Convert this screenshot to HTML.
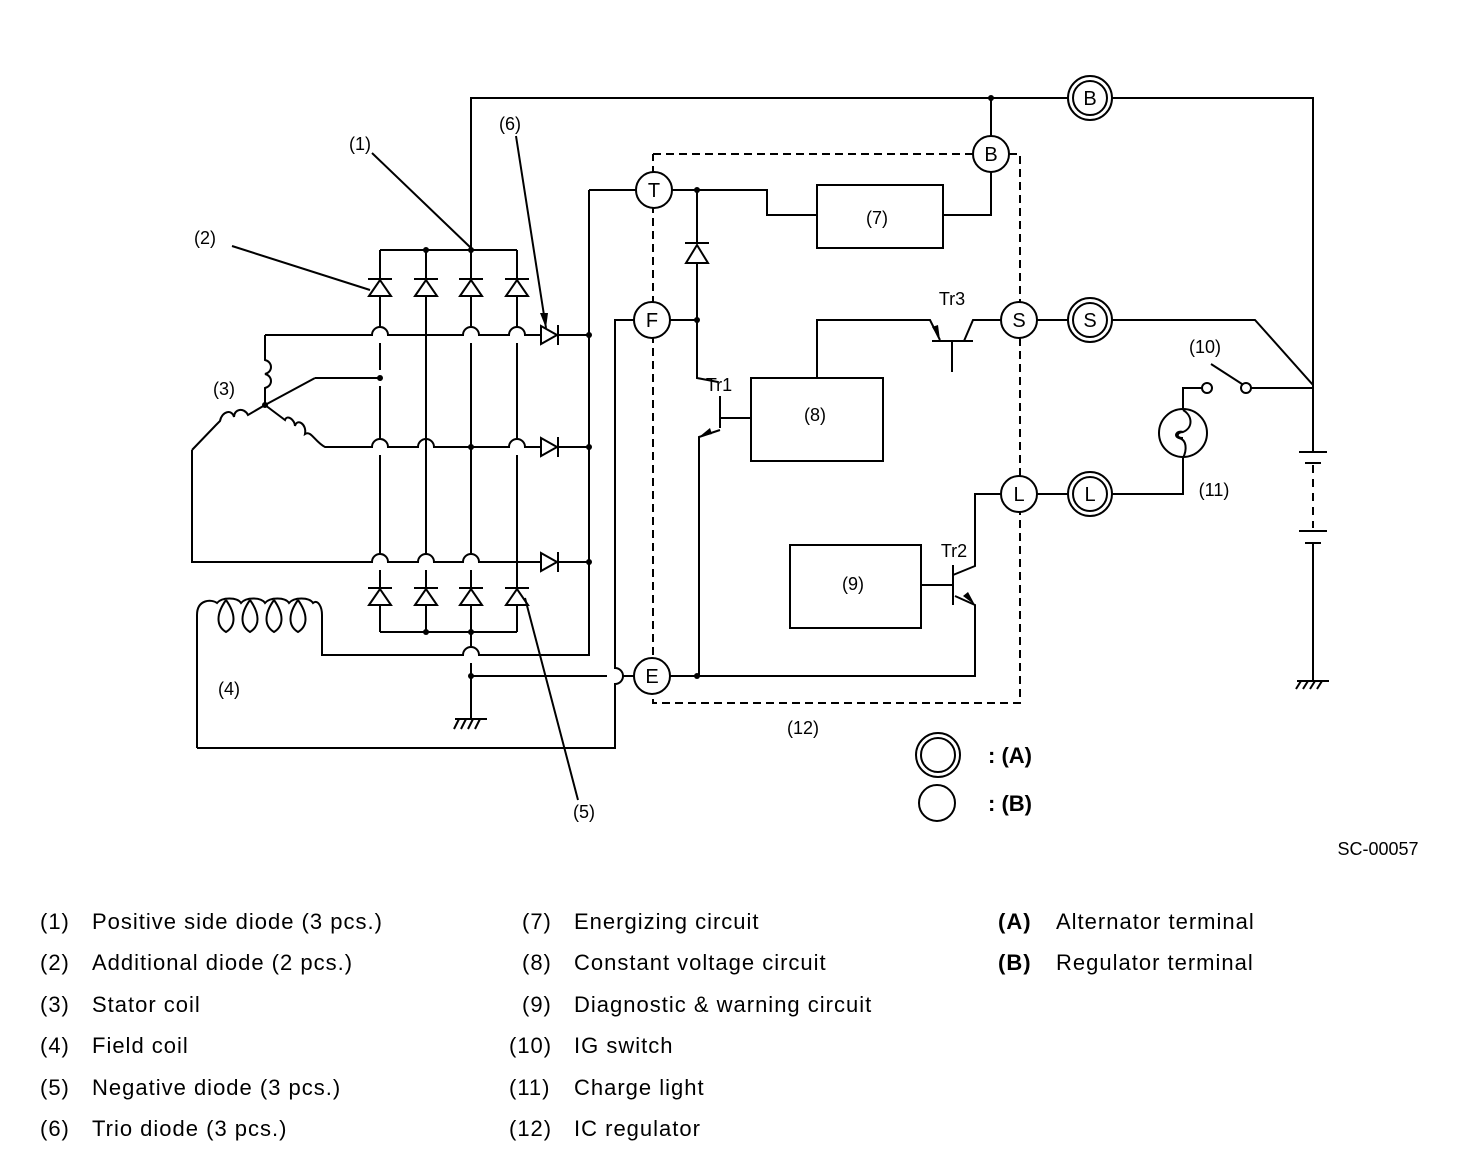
<!DOCTYPE html>
<html><head><meta charset="utf-8"><style>
html,body{margin:0;padding:0;background:#fff}
svg{display:block}
text{font-family:"Liberation Sans",Arial,sans-serif;fill:#000}
</style></head><body>
<svg width="1472" height="1176" viewBox="0 0 1472 1176" xmlns="http://www.w3.org/2000/svg">
<g fill="none" stroke="#000" stroke-width="2">
<path d="M471 250V98H1068M1112 98H1313V380L1313 452"/>
<path d="M991 98V136M991 172V215H943"/>
<rect x="817" y="185" width="126" height="63"/>
<path d="M672 190H767V215H817"/>
<path d="M653 154H973M1009 154H1020V703H653V154" stroke-dasharray="8,5"/>
<path d="M380 250H517M380 632H517"/>
<path d="M380 250V327M380 343V370M380 386V439M380 455V554M380 570V632"/>
<path d="M426 250V554M426 570V632"/>
<path d="M471 250V327M471 343V554M471 570V647M471 663V718"/>
<path d="M517 250V327M517 343V439M517 455V632"/>
<path d="M265 335H372A8 8 0 0 1 388 335H463A8 8 0 0 1 479 335H509A8 8 0 0 1 525 335H541M558 335H589"/>
<path d="M335 447H372A8 8 0 0 1 388 447H418A8 8 0 0 1 434 447H509A8 8 0 0 1 525 447H541M558 447H589"/>
<path d="M192 450V562H372A8 8 0 0 1 388 562H418A8 8 0 0 1 434 562H463A8 8 0 0 1 479 562H541M558 562H589"/>
<path d="M315 378H380"/>
<path d="M541 326L557 335L541 344Z M558 325V345"/>
<path d="M541 438L557 447L541 456Z M558 437V457"/>
<path d="M541 553L557 562L541 571Z M558 552V572"/>
<path d="M589 190V655H479A8 8 0 0 0 463 655H322V630"/>
<path d="M589 190H636"/>
<path d="M265 335V360c8 2 8 12 0 14c8 2 8 12 0 14V405"/>
<path d="M265 405L315 378"/>
<path d="M265 405L248 415c-4 -8 -14 -6 -14 2c-2 -8 -12 -6 -14 4l-4 4L192 450"/>
<path d="M265 405L285 420c2 -6 10 0 10 6c2 -8 12 -2 10 8c6 -4 10 8 20 13H335"/>
<path d="M197 748V615c0-16 15-16 20-12c5-6 20-6 24 0c5-6 20-6 24 0c5-6 20-6 24 0c5-6 20-6 24 0c5-4 9 4 9 12V630"/>
<path d="M226 600c-10 14-10 26 0 32c10-6 10-18 0-32M250 600c-10 14-10 26 0 32c10-6 10-18 0-32M274 600c-10 14-10 26 0 32c10-6 10-18 0-32M298 600c-10 14-10 26 0 32c10-6 10-18 0-32"/>
<path d="M197 748H615V684A8 8 0 0 0 615 668V320H634"/>
<path d="M471 676H607M623 676H634"/>
<path d="M455 719H487M459 719L454 729M466 719L461 729M473 719L468 729M480 719L475 729"/>
<g fill="#fff">
<path d="M369 296L380 280L391 296Z M415 296L426 280L437 296Z M460 296L471 280L482 296Z M506 296L517 280L528 296Z"/>
<path d="M369 605L380 589L391 605Z M415 605L426 589L437 605Z M460 605L471 589L482 605Z M506 605L517 589L528 605Z"/>
</g>
<path d="M368 279H392M414 279H438M459 279H483M505 279H529M368 588H392M414 588H438M459 588H483M505 588H529"/>
<path d="M372 153L471 248M232 246L370 290M516 136L546 328M578 800L525 598"/>
<path d="M697 190V243M697 263V378L718 382"/>
<path d="M686 263L697 245L708 263Z M685 243H709"/>
<path d="M720 396V428M720 418H751M720 430L699 437V676"/>
<path d="M670 676H975V605L955 596"/>
<path d="M670 320H697"/>
<rect x="751" y="378" width="132" height="83"/>
<path d="M817 378V320H930L940 340M932 341H973M952 341V372M964 341L973 320H1001"/>
<rect x="790" y="545" width="131" height="83"/>
<path d="M921 585H953M953 565V605M953 575L975 566V494H1001"/>
<g fill="#fff">
<circle cx="654" cy="190" r="18"/><circle cx="652" cy="320" r="18"/><circle cx="652" cy="676" r="18"/>
<circle cx="991" cy="154" r="18"/><circle cx="1019" cy="320" r="18"/><circle cx="1019" cy="494" r="18"/>
</g>
<circle cx="1090" cy="98" r="22"/><circle cx="1090" cy="98" r="17"/>
<circle cx="1090" cy="320" r="22"/><circle cx="1090" cy="320" r="17"/>
<circle cx="1090" cy="494" r="22"/><circle cx="1090" cy="494" r="17"/>
<path d="M1037 320H1068M1037 494H1068"/>
<path d="M1112 320H1255L1313 385"/>
<path d="M1112 494H1183V458M1183 408V388H1202"/>
<circle cx="1207" cy="388" r="5"/><circle cx="1246" cy="388" r="5"/>
<path d="M1211 364L1242 384M1251 388H1313"/>
<circle cx="1183" cy="433" r="24"/>
<path d="M1183 410c10 6 10 18 0 22c-6-2-10 4-4 6c8 2 8 12 4 20M1183 432c-6 0-8 6 0 6"/>
<path d="M1299 452H1327M1305 463H1321"/>
<path d="M1313 465V528" stroke-dasharray="8,6"/>
<path d="M1299 531H1327M1305 543H1321M1313 543V680"/>
<path d="M1297 681H1329M1301 681L1296 689M1308 681L1303 689M1315 681L1310 689M1322 681L1317 689"/>
<circle cx="938" cy="755" r="22"/><circle cx="938" cy="755" r="17"/>
<circle cx="937" cy="803" r="18"/>
</g>
<g fill="#000">
<path d="M699 437L710 428L712 434Z"/>
<path d="M975 605L963 596L968 592Z"/>
<path d="M940 340L932 327L938 325Z"/>
<path d="M546 328L540 313L548 313Z"/>
<circle cx="426" cy="250" r="3"/><circle cx="471" cy="250" r="3"/><circle cx="380" cy="378" r="3"/>
<circle cx="471" cy="447" r="3"/><circle cx="589" cy="335" r="3"/><circle cx="589" cy="447" r="3"/><circle cx="589" cy="562" r="3"/>
<circle cx="426" cy="632" r="3"/><circle cx="471" cy="632" r="3"/><circle cx="471" cy="676" r="3"/>
<circle cx="265" cy="405" r="3"/><circle cx="991" cy="98" r="3"/><circle cx="697" cy="190" r="3"/>
<circle cx="697" cy="320" r="3"/><circle cx="697" cy="676" r="3"/>
</g>
<g font-size="20" text-anchor="middle">
<text x="654" y="197">T</text><text x="652" y="327">F</text><text x="652" y="683">E</text>
<text x="991" y="161">B</text><text x="1019" y="327">S</text><text x="1019" y="501">L</text>
<text x="1090" y="105">B</text><text x="1090" y="327">S</text><text x="1090" y="501">L</text>
<text x="360" y="150" font-size="18">(1)</text><text x="205" y="244" font-size="18">(2)</text>
<text x="224" y="395" font-size="18">(3)</text><text x="229" y="695" font-size="18">(4)</text>
<text x="584" y="818" font-size="18">(5)</text><text x="510" y="130" font-size="18">(6)</text>
<text x="877" y="224" font-size="18">(7)</text><text x="815" y="421" font-size="18">(8)</text>
<text x="853" y="590" font-size="18">(9)</text><text x="1205" y="353" font-size="18">(10)</text>
<text x="1214" y="496" font-size="18">(11)</text><text x="803" y="734" font-size="18">(12)</text>
<text x="719" y="391" font-size="18">Tr1</text><text x="954" y="557" font-size="18">Tr2</text><text x="952" y="305" font-size="18">Tr3</text>
<text x="1378" y="855" font-size="18">SC-00057</text>
</g>
<g font-size="22" font-weight="bold"><text x="988" y="763">: (A)</text><text x="988" y="811">: (B)</text></g>
<g font-size="22" letter-spacing="1">
<text x="40" y="929">(1)</text><text x="92" y="929">Positive side diode (3 pcs.)</text>
<text x="40" y="970">(2)</text><text x="92" y="970">Additional diode (2 pcs.)</text>
<text x="40" y="1012">(3)</text><text x="92" y="1012">Stator coil</text>
<text x="40" y="1053">(4)</text><text x="92" y="1053">Field coil</text>
<text x="40" y="1095">(5)</text><text x="92" y="1095">Negative diode (3 pcs.)</text>
<text x="40" y="1136">(6)</text><text x="92" y="1136">Trio diode (3 pcs.)</text>
<text x="522" y="929">(7)</text><text x="574" y="929">Energizing circuit</text>
<text x="522" y="970">(8)</text><text x="574" y="970">Constant voltage circuit</text>
<text x="522" y="1012">(9)</text><text x="574" y="1012">Diagnostic &amp; warning circuit</text>
<text x="509" y="1053">(10)</text><text x="574" y="1053">IG switch</text>
<text x="509" y="1095">(11)</text><text x="574" y="1095">Charge light</text>
<text x="509" y="1136">(12)</text><text x="574" y="1136">IC regulator</text>
<text x="998" y="929" font-weight="bold">(A)</text><text x="1056" y="929">Alternator terminal</text>
<text x="998" y="970" font-weight="bold">(B)</text><text x="1056" y="970">Regulator terminal</text>
</g>
</svg>
</body></html>
